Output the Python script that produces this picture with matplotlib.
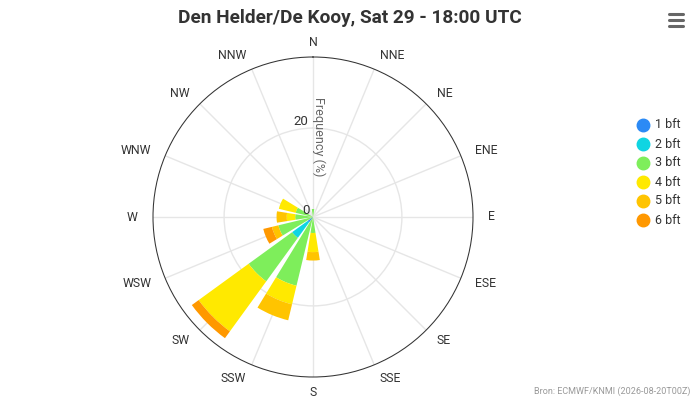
import numpy as np
import matplotlib
matplotlib.use("Agg")
import matplotlib.pyplot as plt
from matplotlib.lines import Line2D

plt.rcParams["font.family"] = ["Roboto", "DejaVu Sans"]

# --- data (frequency %, stacked per Beaufort class) ---
directions = ["N", "NNE", "NE", "ENE", "E", "ESE", "SE", "SSE",
              "S", "SSW", "SW", "WSW", "W", "WNW", "NW", "NNW"]
bft1 = [0, 0, 0, 0, 0, 0, 0, 0, 0, 0, 1.5, 0, 0, 0, 0, 0]
bft2 = [0, 0, 0, 0, 0, 0, 0, 0, 0, 0, 4.3, 0, 0, 0, 0, 0]
bft3 = [1.8, 0, 0, 0, 0, 0, 0, 0, 3.6, 15.9, 12.1, 8.0, 4.0, 4.0, 0, 0]
bft4 = [0, 0, 0, 0, 0, 0, 0, 0, 4.3, 4.3, 13.9, 0, 1.9, 3.9, 0, 0]
bft5 = [0, 0, 0, 0, 0, 0, 0, 0, 1.9, 3.7, 0, 1.5, 2.3, 0, 0, 0]
bft6 = [0, 0, 0, 0, 0, 0, 0, 0, 0, 0, 1.9, 2.0, 0, 0, 0, 0]
series_names = ["1 bft", "2 bft", "3 bft", "4 bft", "5 bft", "6 bft"]
colors = ["#2b8af5", "#0fd5e2", "#7eee5b", "#ffe900", "#ffc400", "#ff9800"]
y_max = 36

fig = plt.figure(figsize=(7, 4), dpi=100)
W, H = 700, 400
cx, cy, R = 313, 217, 160
ax = fig.add_axes([(cx - R) / W, (H - cy - R) / H, 2 * R / W, 2 * R / H],
                  projection="polar")
ax.set_theta_zero_location("N")
ax.set_theta_direction(-1)
ax.set_ylim(0, y_max)

theta = np.deg2rad(np.arange(16) * 22.5)
width = np.deg2rad(22.5) * 0.8

bottom = np.zeros(16)
for vals, col in zip([bft1, bft2, bft3, bft4, bft5, bft6], colors):
    vals = np.array(vals, dtype=float)
    ax.bar(theta, vals, width=width, bottom=bottom, color=col,
           edgecolor="none", linewidth=0, zorder=3)
    bottom += vals

# grid
ax.set_xticks(theta)
ax.set_xticklabels([])
ax.set_yticks([20])
ax.set_yticklabels([])
ax.grid(True, color="#e6e6e6", linewidth=1)
ax.spines["polar"].set_color("#333333")
ax.spines["polar"].set_linewidth(0.75)
ax.tick_params(length=0)

# direction labels
lab_r = y_max * 175 / R
for ang, name in zip(np.arange(16) * 22.5, directions):
    if ang in (0, 180):
        ha = "center"
    elif ang < 180:
        ha = "left"
    else:
        ha = "right"
    ax.text(np.deg2rad(ang), lab_r, name, ha=ha, va="center",
            fontsize=8.8, color="#333333", clip_on=False)

# radial axis labels
ax.annotate("20", xy=(0, 20), xytext=(-5, 7), textcoords="offset pixels",
            ha="right", va="center", fontsize=9.5, color="#333333", zorder=5)
ax.annotate("0", xy=(0, 0), xytext=(-3, 7), textcoords="offset pixels",
            ha="right", va="center", fontsize=9.5, color="#333333", zorder=5)
fig.text(319 / W, 1 - 137 / H, "Frequency (%)", rotation=-90, ha="center",
         va="center", fontsize=9, color="#666666")

# title
fig.text(350 / W, 1 - 18 / H, "Den Helder/De Kooy, Sat 29 - 18:00 UTC",
         ha="center", va="center", fontsize=13.7, fontweight="bold",
         color="#333333")

# legend
for i, (name, col) in enumerate(zip(series_names, colors)):
    y = 1 - (125 + i * 19) / H
    fig.add_artist(Line2D([643 / W], [y], marker="o", markersize=9,
                          color=col, linestyle="none"))
    fig.text(655 / W, y, name, ha="left", va="center", fontsize=9,
             color="#333333")

# menu icon
for yy in (14, 20, 26):
    fig.add_artist(Line2D([669 / W, 683 / W], [1 - yy / H, 1 - yy / H],
                          color="#666666", linewidth=2.2,
                          solid_capstyle="round"))

# credits
fig.text(690 / W, 1 - 391 / H, "Bron: ECMWF/KNMI (2026-08-20T00Z)",
         ha="right", va="center", fontsize=6.5, color="#999999")

fig.savefig("out.png", dpi=100)
